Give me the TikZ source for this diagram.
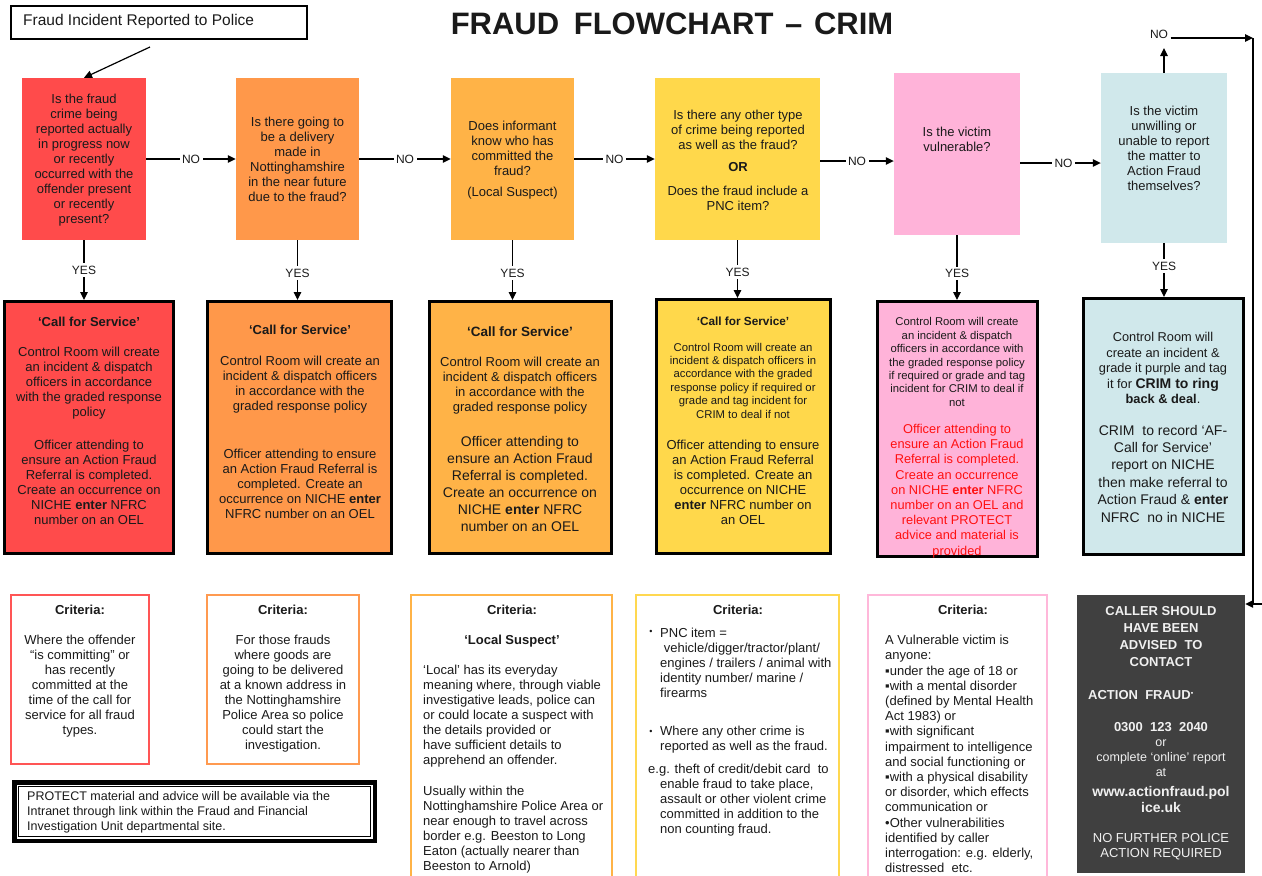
\documentclass[tikz,border=0pt]{standalone}
\usepackage{fontspec}
\setmainfont{Liberation Sans}
\usetikzlibrary{arrows.meta,fit}
\definecolor{cRed}{HTML}{FF4B4B}
\definecolor{cOra}{HTML}{FF984A}
\definecolor{cLor}{HTML}{FFB347}
\definecolor{cYel}{HTML}{FFD84B}
\definecolor{cPink}{HTML}{FFB3D9}
\definecolor{cBlue}{HTML}{D0E8EB}
\definecolor{cDark}{HTML}{404040}
\definecolor{bRed}{HTML}{FF5555}
\definecolor{bOra}{HTML}{FF9A50}
\definecolor{bLor}{HTML}{FFB347}
\definecolor{bYel}{HTML}{FFD850}
\definecolor{bPink}{HTML}{FFB8DA}
\definecolor{tc}{HTML}{1A1A1A}
\definecolor{wt}{HTML}{F0F0F0}
\definecolor{redtxt}{HTML}{FF1010}
\newcommand\fsz[2]{\fontsize{#1}{#2}\selectfont}
\begin{document}
\begin{tikzpicture}[x=1pt,y=-1pt,
  arr/.style={-{Triangle[length=8pt,width=7.5pt]}, line width=1.2pt},
  ln/.style={line width=1.2pt},
  lbl/.style={fill=white, inner sep=2.5pt, font=\fsz{12}{14}, text=tc},
  rbox/.style={inner sep=0pt, draw=none},
  abox/.style={inner sep=0pt, draw=black, line width=2.6pt},
  cbox/.style={inner sep=0pt, fill=white, line width=2pt},
  tx/.style={align=center, inner sep=0pt, text=tc, font=\fsz{13}{15}},
  tl/.style={align=left, inner sep=0pt, text=tc, font=\fsz{13}{15}, anchor=west},
  hd/.style={align=center, inner sep=0pt, text=tc, font=\fsz{13}{15}\bfseries}
]
\useasboundingbox (0,0) rectangle (1262,876);
\clip (0,0) rectangle (1262,876);
\fill[white] (0,0) rectangle (1262,876);

% title and start
\node[inner sep=0pt, text=tc, font=\fsz{31}{36}\bfseries] (title) at (672,23.5) {FRAUD\hspace{6pt} FLOWCHART\hspace{3pt} –\hspace{3pt} CRIM};
\node[fit={(10.9,5.9) (307.1,39.1)}, inner sep=0pt, draw=black, line width=1.8pt] (start) {};
\node[anchor=west, inner sep=0pt, text=tc, font=\fsz{15.5}{18}] (starttxt) at (23,21.5) {Fraud Incident Reported to Police};

% decision boxes
\node[rbox, fill=cRed, fit={(22,78) (146,240)}] (d1) {};
\node[rbox, fill=cOra, fit={(236,78) (359,240)}] (d2) {};
\node[rbox, fill=cLor, fit={(451,78) (574,240)}] (d3) {};
\node[rbox, fill=cYel, fit={(655,78) (820,240)}] (d4) {};
\node[rbox, fill=cPink, fit={(894,73) (1020,235)}] (d5) {};
\node[rbox, fill=cBlue, fit={(1101,73) (1227,243)}] (d6) {};

\node[tx] (d1t) at (84,160.5) {Is the fraud\\ crime being\\ reported actually\\ in progress now\\ or recently\\ occurred with the\\ offender present\\ or recently\\ present?};
\node[tx] (d2t) at (297.5,159.5) {Is there going to\\ be a delivery\\ made in\\ Nottinghamshire\\ in the near future\\ due to the fraud?};
\node[tx] (d3t) at (512.5,148.5) {Does informant\\ know who has\\ committed the\\ fraud?};
\node[tx] (d3s) at (512.5,193) {(Local Suspect)};
\node[tx] (d4t) at (738,129.5) {Is there any other type\\ of crime being reported\\ as well as the fraud?};
\node[hd] (d4or) at (738,167) {OR};
\node[tx] (d4u) at (738,198) {Does the fraud include a\\ PNC item?};
\node[tx] (d5t) at (957,139.5) {Is the victim\\ vulnerable?};
\node[tx] (d6t) at (1164,148.5) {Is the victim\\ unwilling or\\ unable to report\\ the matter to\\ Action Fraud\\ themselves?};

% action boxes
\node[abox, fill=cRed, fit={(4.3,301.3) (173.7,553.7)}] (a1) {};
\node[abox, fill=cOra, fit={(207.3,301.3) (391.7,553.7)}] (a2) {};
\node[abox, fill=cLor, fit={(429.3,301.3) (611.7,553.7)}] (a3) {};
\node[abox, fill=cYel, fit={(656.3,299.3) (830.7,553.7)}] (a4) {};
\node[abox, fill=cPink, fit={(877.3,301.3) (1037.7,556.7)}] (a5) {};
\node[abox, fill=cBlue, fit={(1083.3,298.3) (1243.7,554.7)}] (a6) {};

\node[hd] (a1h) at (89,322) {‘Call for Service’};
\node[tx] (a1p) at (89,383.5) {Control Room will create\\ an incident \& dispatch\\ officers in accordance\\ with the graded response\\ policy};
\node[tx] (a1q) at (89,482) {Officer attending to\\ ensure an Action Fraud\\ Referral is completed.\\ Create an occurrence on\\ NICHE \textbf{enter} NFRC\\ number on an OEL};

\node[hd] (a2h) at (300,330) {‘Call for Service’};
\node[tx] (a2p) at (300,384.5) {Control Room will create an\\ incident \& dispatch officers\\ in accordance with the\\ graded response policy};
\node[tx] (a2q) at (300,483.5) {Officer attending to ensure\\ an Action Fraud Referral is\\ completed. Create an\\ occurrence on NICHE \textbf{enter}\\ NFRC number on an OEL};

\node[hd, font=\fsz{13.5}{15}\bfseries] (a3h) at (520,332) {‘Call for Service’};
\node[tx] (a3p) at (520,386) {Control Room will create an\\ incident \& dispatch officers\\ in accordance with the\\ graded response policy};
\node[tx, font=\fsz{14}{17}] (a3q) at (520,483.5) {Officer attending to\\ ensure an Action Fraud\\ Referral is completed.\\ Create an occurrence on\\ NICHE \textbf{enter} NFRC\\ number on an OEL};

\node[hd, font=\fsz{11.8}{14}\bfseries] (a4h) at (743,321) {‘Call for Service’};
\node[tx, font=\fsz{11.3}{13.4}] (a4p) at (743,380.5) {Control Room will create an\\ incident \& dispatch officers in\\ accordance with the graded\\ response policy if required or\\ grade and tag incident for\\ CRIM to deal if not};
\node[tx] (a4q) at (743,482) {Officer attending to ensure\\ an Action Fraud Referral\\ is completed. Create an\\ occurrence on NICHE\\ \textbf{enter} NFRC number on\\ an OEL};

\node[tx, font=\fsz{11.3}{13.4}] (a5p) at (957,362) {Control Room will create\\ an incident \& dispatch\\ officers in accordance with\\ the graded response policy\\ if required or grade and tag\\ incident for CRIM to deal if\\ not};
\node[tx, text=redtxt, font=\fsz{12.8}{15.2}] (a5q) at (957,491) {Officer attending to\\ ensure an Action Fraud\\ Referral is completed.\\ Create an occurrence\\ on NICHE \textbf{enter} NFRC\\ number on an OEL and\\ relevant PROTECT\\ advice and material is\\ provided};

\node[tx, font=\fsz{12.8}{15.5}] (a6p) at (1163,368) {Control Room will\\ create an incident \&\\ grade it purple and tag\\ it for \textbf{\fsz{14}{15.5}CRIM to ring}\\ \textbf{back \& deal}.};
\node[tx, font=\fsz{14}{17.4}] (a6q) at (1163,473.5) {CRIM\ \ to record ‘AF-\\ Call\ for Service’\\ report on NICHE\\ then make\ referral to\\ Action Fraud\ \& \textbf{enter}\\ NFRC\ \ no in NICHE};

% NO connectors
\draw[arr] (d1.east) -- node[lbl] (no1) {NO} (d2.west);
\draw[arr] (d2.east) -- node[lbl] (no2) {NO} (d3.west);
\draw[arr] (d3.east) -- node[lbl] (no3) {NO} (d4.west);
\coordinate (n4) at ([yshift=-2pt]d4.east);
\draw[arr] (n4) -- node[lbl] (no4) {NO} (n4 -| d5.west);
\coordinate (n5) at ([yshift=-9pt]d5.east);
\draw[arr] (n5) -- node[lbl, xshift=3pt] (no5) {NO} (n5 -| d6.west);

% YES connectors
\draw[arr] (d1.south) -- node[lbl] (y1) {YES} (d1.south |- a1.north);
\draw[arr] (d2.south) -- node[lbl, yshift=-3pt] (y2) {YES} (d2.south |- a2.north);
\draw[arr] (d3.south) -- node[lbl, yshift=-3pt] (y3) {YES} (d3.south |- a3.north);
\draw[arr] (d4.south) -- node[lbl, yshift=-3pt] (y4) {YES} (d4.south |- a4.north);
\draw[arr] (d5.south) -- node[lbl, yshift=-6pt] (y5) {YES} (d5.south |- a5.north);
\draw[arr] (d6.south) -- node[lbl, yshift=4pt] (y6) {YES} (d6.south |- a6.north);

% start arrow
\coordinate (s1) at (150,47);
\draw[arr] (s1) -- (d1.north);

% top NO route
\coordinate (nup) at (1164,48);
\draw[arr] (d6.north) -- (nup);
\node[lbl, fill=none] (notop) at (1159,34) {NO};
\coordinate (c1) at (1253,38);
\draw[arr] (notop.east |- c1) -- (c1);
\coordinate (c2) at (1253,604);
\draw[ln] (c1) -- (c2);
\coordinate (c3) at (1262,604);

% criteria boxes
\node[cbox, draw=bRed, fit={(11,595) (149,764)}] (k1) {};
\node[cbox, draw=bOra, fit={(207,595) (359,764)}] (k2) {};
\node[cbox, draw=bLor, fit={(411,595) (612,890)}] (k3) {};
\node[cbox, draw=bYel, fit={(636,595) (839,890)}] (k4) {};
\node[cbox, draw=bPink, fit={(868,595) (1047,890)}] (k5) {};
\node[rbox, fill=cDark, fit={(1077,595) (1245,873)}] (k6) {};
\draw[arr] (c3) -- (c3 -| k6.east);

\node[hd] (k1h) at (80,610) {Criteria:};
\node[tx] (k1p) at (80,686) {Where the offender\\ “is committing” or\\ has recently\\ committed at the\\ time of the call for\\ service for all fraud\\ types.};
\node[hd] (k2h) at (283,610) {Criteria:};
\node[tx] (k2p) at (283,693.5) {For those frauds\\ where goods are\\ going to be delivered\\ at a known address\ in\\ the Nottinghamshire\\ Police Area so police\\ could start the\\ investigation.};
\node[hd] (k3h) at (512,610) {Criteria:};
\node[hd] (k3s) at (512,641) {‘Local Suspect’};
\node[tl] (k3p) at (423,716.5) {‘Local’ has its everyday\\ meaning where, through viable\\ investigative leads, police can\\ or could locate a suspect with\\ the details provided or\\ have sufficient details to\\ apprehend an offender.};
\node[tl] (k3q) at (423,830) {Usually within the\\ Nottinghamshire Police Area or\\ near enough to travel across\\ border e.g. Beeston to Long\\ Eaton (actually nearer than\\ Beeston to Arnold)};

\node[hd] (k4h) at (738,610) {Criteria:};
\node[tx, font=\fsz{9}{10}] (k4b1) at (651,632) {•};
\node[tl] (k4p) at (660,662.5) {PNC item =\\ \ vehicle/digger/tractor/plant/\\ engines / trailers / animal with\\ identity number/ marine /\\ firearms};
\node[tx, font=\fsz{9}{10}] (k4b2) at (651,732) {•};
\node[tl] (k4q) at (660,739.5) {Where any other crime is\\ reported as well as the fraud.};
\node[tl] (k4r) at (648,770) {e.g. theft of credit/debit card\ \ to};
\node[tl] (k4s) at (660,808) {enable fraud to take place,\\ assault or other violent crime\\ committed in addition to the\\ non counting fraud.};

\node[hd] (k5h) at (963,610) {Criteria:};
\node[tl, font=\fsz{13}{15.2}] (k5p) at (885,754) {A Vulnerable victim is\\ anyone:\\ ▪under the age of 18 or\\ ▪with a mental disorder\\ (defined by Mental Health\\ Act 1983) or\\ ▪with significant\\ impairment to intelligence\\ and social functioning or\\ ▪with a physical disability\\ or disorder, which effects\\ communication or\\ •Other vulnerabilities\\ identified by caller\\ interrogation: e.g. elderly,\\ distressed\ \ etc.};

\node[hd, text=wt, font=\fsz{13}{17}\bfseries] (k6a) at (1161,636.5) {CALLER\ SHOULD\\ HAVE\ BEEN\\ ADVISED\ \ TO\\ CONTACT};
\node[tl, text=wt, font=\fsz{13}{15}\bfseries] (k6b) at (1088,695) {ACTION\ \ FRAUD\raisebox{4pt}{\fsz{7}{8}▪}};
\node[hd, text=wt] (k6c) at (1161,727) {0300\ \ 123\ \ 2040};
\node[tx, text=wt, font=\fsz{12.5}{15}] (k6d) at (1161,758) {or\\ complete ‘online’ report\\ at};
\node[hd, text=wt, font=\fsz{14}{16}\bfseries] (k6e) at (1161,799) {www.actionfraud.pol\\ ice.uk};
\node[tx, text=wt] (k6f) at (1161,846.5) {NO FURTHER POLICE\\ ACTION REQUIRED};

% protect box
\node[inner sep=0pt, draw=black, line width=4.5pt, fit={(14.25,782.25) (374.75,840.75)}] (pr) {};
\node[inner sep=0pt, draw=black, line width=0.9pt, fit={(18.5,786.5) (370.5,836.5)}] (pri) {};
\node[tl, font=\fsz{12.5}{15}] (prt) at (27,812) {PROTECT material and advice will be available via the\\ Intranet through link within the Fraud and Financial\\ Investigation Unit departmental site.};
\end{tikzpicture}
\end{document}
